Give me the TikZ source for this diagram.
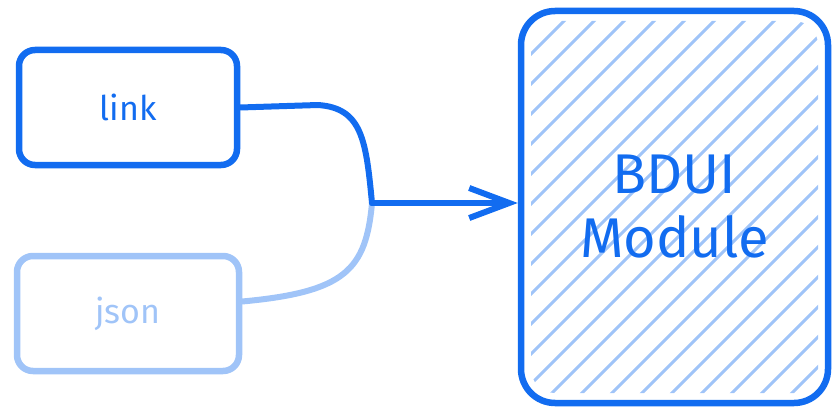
\documentclass[tikz,border=0pt]{standalone}
\usepackage{fontspec}
\setmainfont{Fira Sans}
\usetikzlibrary{arrows.meta}
\definecolor{bdblue}{RGB}{18,108,240}
\definecolor{bdlight}{RGB}{160,196,248}
\tikzset{
  card/.style={draw=#1, text=#1, line width=6.5pt, rounded corners=16pt,
    minimum width=218pt, minimum height=115pt, font=\fontsize{34}{36}\selectfont},
  wire/.style={draw=#1, line width=6pt},
  hatch/.style={draw=bdlight, line width=3pt},
  module/.style={draw=bdblue, text=bdblue, line width=6.5pt, rounded corners=34pt,
    minimum width=307pt, minimum height=392pt, align=center,
    font=\fontsize{56}{64}\selectfont,
    path picture={
      \begin{scope}
        \clip[rounded corners=24pt] ([shift={(10pt,10pt)}]path picture bounding box.south west)
          rectangle ([shift={(-10pt,-10pt)}]path picture bounding box.north east);
        \foreach \k in {-12,...,10}
          \draw[hatch] ([xshift=30pt*\k-9pt]path picture bounding box.south west) -- ++(400pt,400pt);
      \end{scope}}},
}
\begin{document}
\begin{tikzpicture}[x=1pt, y=-1pt, line cap=round, line join=round]
  \useasboundingbox (0,0) rectangle (832,409);
  \node[card=bdblue] (link) at (128,107.5) {link};
  \node[card=bdlight, minimum width=222pt] (json) at (128,313.5) {json};
  \node[module] (bdui) at (674.5,207) {BDUI\\Module};
  \coordinate (join) at (372,203);
  % inputs merge, then one arrow into the module
  \draw[wire=bdlight] (json.6) .. controls (345,292) and (366,270) .. (join);
  \draw[wire=bdblue] (link.east) -- (318,105) .. controls (362,108) and (366,140) .. (join);
  \draw[wire=bdblue, -{Straight Barb[length=40pt, width=30pt, line width=6pt]}] (join) -- (join -| bdui.west);
\end{tikzpicture}
\end{document}
